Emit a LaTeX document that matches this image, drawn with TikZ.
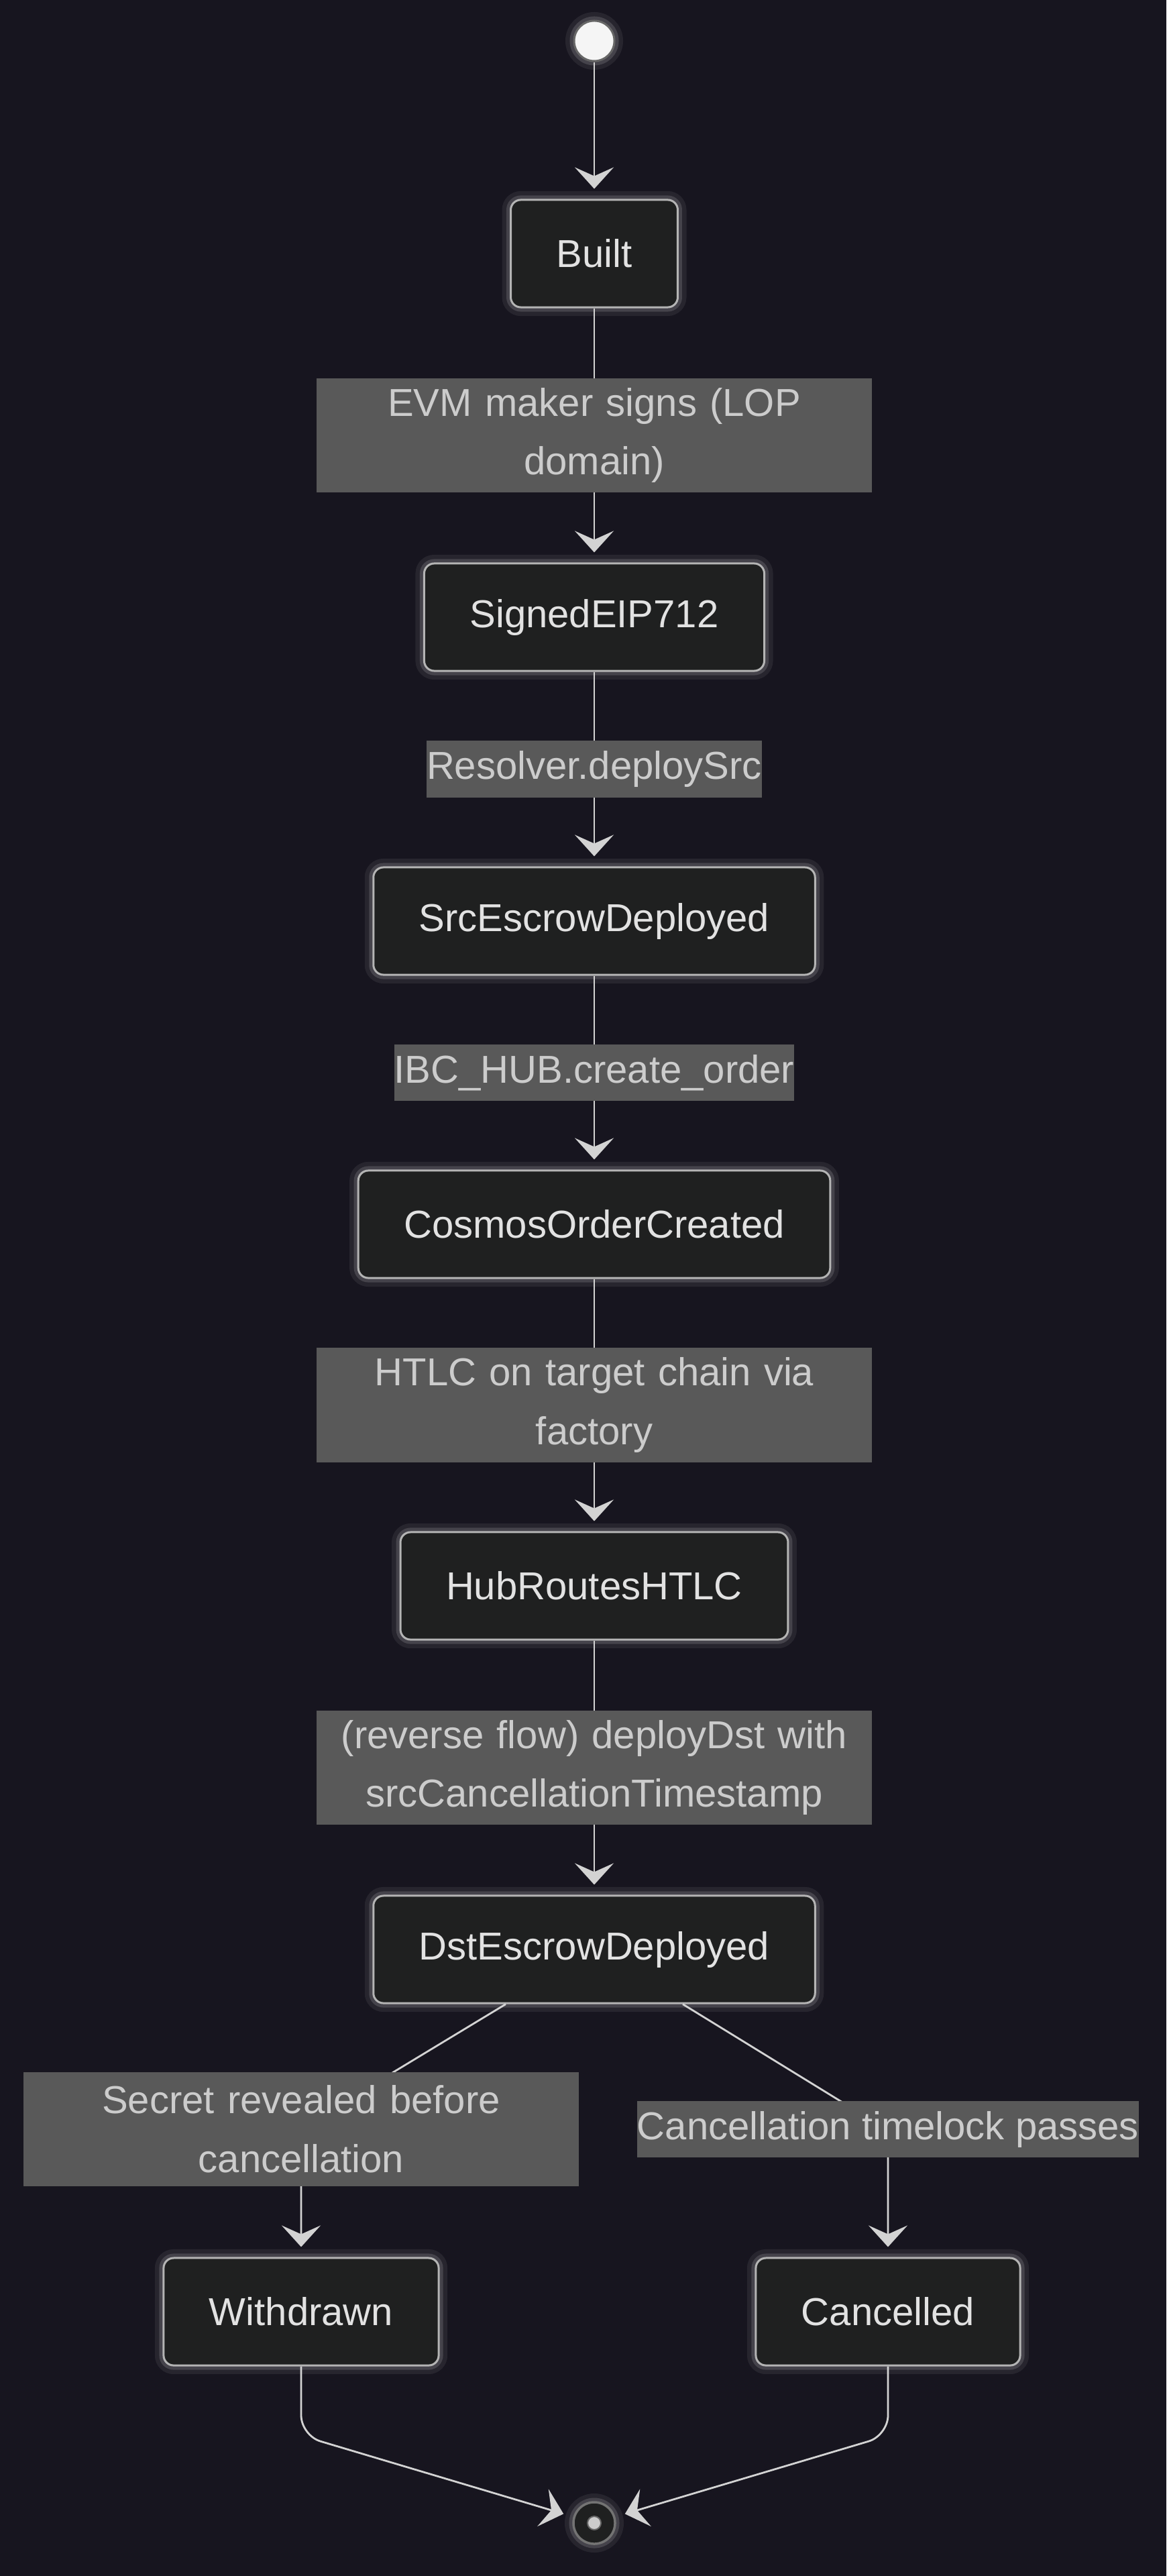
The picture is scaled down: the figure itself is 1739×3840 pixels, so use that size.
\documentclass[tikz,border=0pt]{standalone}
\usepackage{fontspec}
\setmainfont{Liberation Sans}
\usepackage{xcolor}
\usetikzlibrary{arrows.meta,positioning,calc}

\definecolor{bgdark}{HTML}{17151F}
\definecolor{statefill}{HTML}{1F2020}
\definecolor{stateline}{HTML}{B4B4B4}
\definecolor{statetext}{HTML}{E2E2E2}
\definecolor{labelfill}{HTML}{595959}
\definecolor{labeltext}{HTML}{CCCCCC}
\definecolor{edgeline}{HTML}{D3D3D3}

\tikzset{
	glow/.style={
		preaction={draw=white,draw opacity=0.07,line width=0.26cm},
		preaction={draw=white,draw opacity=0.14,line width=0.13cm}},
	state/.style={glow,draw=stateline,fill=statefill,line width=0.03cm,
		rounded corners=0.15cm,minimum height=1.6cm,inner xsep=0.68cm,
		text=statetext,font=\fontsize{16.5pt}{25pt}\selectfont},
	trans/.style={fill=labelfill,text=labeltext,inner sep=0pt,
		minimum height=0.84cm,font=\fontsize{16.5pt}{25pt}\selectfont},
	translong/.style={trans,text width=8.28cm,align=center,minimum height=1.7cm},
	edge/.style={draw=edgeline,line width=0.028cm,shorten >=0.15cm,
		-{Stealth[length=0.32cm,width=0.58cm,inset=0.13cm]}},
	startdot/.style={glow,circle,inner sep=0pt,minimum size=0.6cm,
		fill=white!96!black,draw=black!60,line width=0.03cm},
	enddot/.style={glow,circle,inner sep=0pt,minimum size=0.62cm,
		fill=statefill,draw=black!55,line width=0.035cm},
	enddotcore/.style={circle,inner sep=0pt,minimum size=0.2cm,
		fill=labeltext,draw=black!60,line width=0.02cm}
}

\begin{document}
\begin{tikzpicture}[x=0.01cm,y=-0.01cm]

	\useasboundingbox (0,0) rectangle (1739,3840);

	\fill[bgdark]
	(0,0) rectangle (1739,3840);

	% states
	\node[startdot] (start) at (886,61) {};

	\node[state] (built) at (886,378) {Built};

	\node[state] (signed) at (886,920) {SignedEIP712};

	\node[state] (srcesc) at (886,1373) {SrcEscrowDeployed};

	\node[state] (cosmos) at (886,1825) {CosmosOrderCreated};

	\node[state] (hub) at (886,2364) {HubRoutesHTLC};

	\node[state] (dstesc) at (886,2906) {DstEscrowDeployed};

	\node[state] (withdrawn) at (449,3446) {Withdrawn};

	\node[state] (cancelled) at (1324,3446) {Cancelled};

	\node[enddot] (finish) at (886,3761) {};
	\node[enddotcore] (finishcore) at (finish) {};

	% transitions
	\draw[edge]
	(start) -- (built);

	\draw[edge]
	(built) -- node[translong] (lblsign) {EVM maker signs (LOP\\domain)} (signed);

	\draw[edge]
	(signed) -- node[trans] (lbldeploy) {Resolver.deploySrc} (srcesc);

	\draw[edge]
	(srcesc) -- node[trans] (lblcreate) {IBC\_HUB.create\_order} (cosmos);

	\draw[edge]
	(cosmos) -- node[translong] (lblhtlc) {HTLC on target chain via\\factory} (hub);

	\draw[edge]
	(hub) -- node[translong] (lblreverse) {(reverse flow) deployDst with\\srcCancellationTimestamp} (dstesc);

	\draw[edge]
	($(dstesc.south)+(-132,0)$) -- (588,3088) -- (449,3174)
	node[translong] (lblsecret) {Secret revealed before\\cancellation}
	-- (withdrawn.north);

	\draw[edge]
	($(dstesc.south)+(132,0)$) -- (1253,3132) -- (1324,3174)
	node[trans] (lbltimelock) {Cancellation timelock passes}
	-- (cancelled.north);

	\draw[edge,rounded corners=0.3cm]
	(withdrawn.south) -- ++(0,103) -- (finish);

	\draw[edge,rounded corners=0.3cm]
	(cancelled.south) -- ++(0,103) -- (finish);

\end{tikzpicture}
\end{document}
